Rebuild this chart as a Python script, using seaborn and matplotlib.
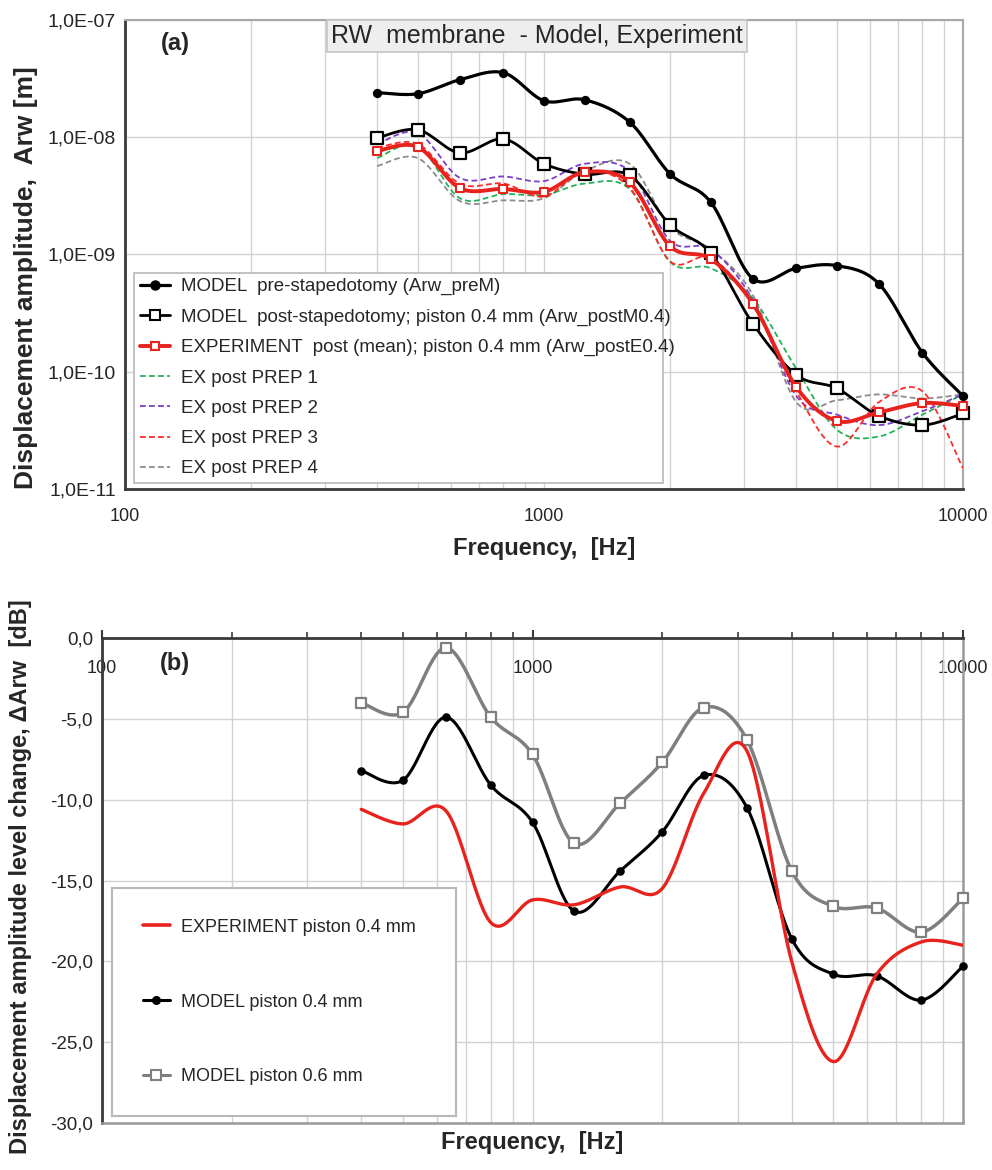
import numpy as np
import matplotlib
matplotlib.use("Agg")
import matplotlib.pyplot as plt
import seaborn as sns
from matplotlib.lines import Line2D
from matplotlib.ticker import FixedLocator, FuncFormatter, NullLocator, NullFormatter

# ---------------- data ----------------
freq = [400, 500, 630, 800, 1000, 1250, 1600, 2000, 2500, 3150, 4000, 5000, 6300, 8000, 10000]

arw_preM = [2.38e-8, 2.33e-8, 3.07e-8, 3.52e-8, 2.03e-8, 2.07e-8, 1.34e-8, 4.83e-9,
            2.78e-9, 6.2e-10, 7.6e-10, 8.0e-10, 5.6e-10, 1.45e-10, 6.2e-11]
arw_postM04 = [9.8e-9, 1.15e-8, 7.3e-9, 9.6e-9, 5.9e-9, 4.8e-9, 4.7e-9, 1.78e-9,
               1.02e-9, 2.57e-10, 9.4e-11, 7.2e-11, 4.2e-11, 3.5e-11, 4.4e-11]
arw_postE04 = [7.6e-9, 8.2e-9, 3.66e-9, 3.6e-9, 3.4e-9, 5.0e-9, 4.1e-9, 1.17e-9,
               9.1e-10, 3.8e-10, 7.4e-11, 3.8e-11, 4.5e-11, 5.4e-11, 5.1e-11]
prep1 = [6.6e-9, 8.4e-9, 3.0e-9, 3.26e-9, 3.2e-9, 4.0e-9, 3.6e-9, 8.6e-10,
         7.6e-10, 4.2e-10, 1.06e-10, 3.2e-11, 2.8e-11, 4.3e-11, 6.4e-11]
prep2 = [8.7e-9, 1.08e-8, 4.47e-9, 4.6e-9, 4.2e-9, 5.9e-9, 5.1e-9, 1.3e-9,
         1.1e-9, 4.1e-10, 6.2e-11, 4.3e-11, 3.5e-11, 4.6e-11, 6.4e-11]
prep3 = [8.1e-9, 8.7e-9, 3.98e-9, 4.0e-9, 3.1e-9, 5.1e-9, 3.7e-9, 8.7e-10,
         9.3e-10, 3.7e-10, 6.8e-11, 2.3e-11, 5.5e-11, 6.8e-11, 1.5e-11]
prep4 = [5.65e-9, 6.6e-9, 2.84e-9, 2.88e-9, 3.0e-9, 5.1e-9, 5.9e-9, 1.7e-9,
         1.1e-9, 4.5e-10, 5.5e-11, 5.7e-11, 6.4e-11, 5.9e-11, 6.4e-11]

dArw_E04 = [-10.6, -11.5, -10.7, -17.6, -16.2, -16.5, -15.4, -15.5,
            -9.6, -7.0, -20.0, -26.2, -20.8, -18.8, -19.0]
dArw_M04 = [-8.2, -8.8, -4.9, -9.1, -11.4, -16.9, -14.4, -12.0,
            -8.5, -10.5, -18.6, -20.8, -20.9, -22.4, -20.3]
dArw_M06 = [-4.0, -4.6, -0.6, -4.9, -7.2, -12.7, -10.2, -7.7,
            -4.3, -6.3, -14.4, -16.6, -16.7, -18.2, -16.1]

top_labels = ["MODEL  pre-stapedotomy (Arw_preM)",
              "MODEL  post-stapedotomy; piston 0.4 mm (Arw_postM0.4)",
              "EXPERIMENT  post (mean); piston 0.4 mm (Arw_postE0.4)",
              "EX post PREP 1", "EX post PREP 2", "EX post PREP 3", "EX post PREP 4"]
bot_labels = ["EXPERIMENT piston 0.4 mm", "MODEL piston 0.4 mm", "MODEL piston 0.6 mm"]
x_ticks = [100, 1000, 10000]
y_ticks_top = [1e-11, 1e-10, 1e-9, 1e-8, 1e-7]
y_ticks_bot = [0, -5, -10, -15, -20, -25, -30]


def smooth(x, y, logy=True, n=30):
    """Excel-like smoothed line (Catmull-Rom / Bezier) in log-x space."""
    lx = np.log10(np.asarray(x, float))
    yy = np.asarray(y, float)
    if logy:
        yy = np.log10(yy)
    P = np.column_stack([lx, yy])
    P = np.vstack([P[0], P, P[-1]])
    t = np.linspace(0, 1, n, endpoint=False)[:, None]
    pts = []
    for i in range(1, len(P) - 2):
        p0, p1, p2, p3 = P[i - 1], P[i], P[i + 1], P[i + 2]
        b1 = p1 + (p2 - p0) / 6.0
        b2 = p2 - (p3 - p1) / 6.0
        seg = ((1 - t) ** 3) * p1 + 3 * ((1 - t) ** 2) * t * b1 + 3 * (1 - t) * t ** 2 * b2 + t ** 3 * p2
        pts.append(seg)
    pts.append(P[-2][None, :])
    pts = np.vstack(pts)
    xs = 10 ** pts[:, 0]
    ys = 10 ** pts[:, 1] if logy else pts[:, 1]
    return xs, ys


sns.set_style("white")
plt.rcParams["font.family"] = ["Liberation Sans", "DejaVu Sans"]

fig = plt.figure(figsize=(9.92, 11.7), dpi=100)
ax1 = fig.add_axes([125 / 992, 1 - 489 / 1170, (963 - 125) / 992, (489 - 19.5) / 1170])
ax2 = fig.add_axes([102 / 992, 1 - 1123 / 1170, (963 - 102) / 992, (1123 - 638) / 1170])

dark = "#3a3a3a"
light = "#a8a8a8"
gridc = "#d2d2d2"
green = "#22b35a"
purple = "#7a3fc8"
red = "#e8231e"
gray_d = "#8c8c8c"

# ---------------- panel (a) ----------------
ax1.set_xscale("log")
ax1.set_yscale("log")
ax1.set_xlim(100, 10000)
ax1.set_ylim(1e-11, 1e-7)

dash = (0, (3.2, 1.8))
for vals, col in [(prep4, gray_d), (prep1, green), (prep2, purple), (prep3, "#ff2a2a")]:
    xs, ys = smooth(freq, vals)
    sns.lineplot(x=xs, y=ys, ax=ax1, color=col, linewidth=1.3, linestyle=dash,
                 sort=False, estimator=None, legend=False, zorder=3)

xs, ys = smooth(freq, arw_postM04)
sns.lineplot(x=xs, y=ys, ax=ax1, color="black", linewidth=2.0, sort=False, estimator=None,
             legend=False, zorder=4)
sns.scatterplot(x=freq, y=arw_postM04, ax=ax1, marker="s", s=70, color="white",
                edgecolor="black", linewidth=1.6, zorder=5, legend=False, clip_on=False)

xs, ys = smooth(freq, arw_postE04)
sns.lineplot(x=xs, y=ys, ax=ax1, color=red, linewidth=2.8, sort=False, estimator=None,
             legend=False, zorder=6)
sns.scatterplot(x=freq, y=arw_postE04, ax=ax1, marker="s", s=40, color="white",
                edgecolor=red, linewidth=1.5, zorder=7, legend=False, clip_on=False)

xs, ys = smooth(freq, arw_preM)
sns.lineplot(x=xs, y=ys, ax=ax1, color="black", linewidth=2.3, sort=False, estimator=None,
             legend=False, zorder=8)
sns.scatterplot(x=freq, y=arw_preM, ax=ax1, marker="o", s=45, color="black",
                edgecolor="black", linewidth=0, zorder=9, legend=False, clip_on=False)

ax1.xaxis.set_major_locator(FixedLocator(x_ticks))
ax1.xaxis.set_major_formatter(FuncFormatter(lambda v, p: f"{int(round(v))}"))
ax1.xaxis.set_minor_formatter(NullFormatter())
ax1.yaxis.set_major_locator(FixedLocator(y_ticks_top))
ax1.yaxis.set_minor_locator(NullLocator())
ax1.yaxis.set_major_formatter(FuncFormatter(lambda v, p: f"{v:.1E}".replace(".", ",")))
ax1.grid(True, which="major", color=gridc, linewidth=1.0)
ax1.grid(True, which="minor", axis="x", color=gridc, linewidth=1.0)
ax1.set_axisbelow(True)
for s in ["left", "bottom"]:
    ax1.spines[s].set_color(dark)
    ax1.spines[s].set_linewidth(2.0)
for s in ["top", "right"]:
    ax1.spines[s].set_color(light)
    ax1.spines[s].set_linewidth(1.5)
ax1.tick_params(axis="both", which="major", direction="out", length=6, width=1.5,
                color=dark, labelsize=13, pad=3)
ax1.tick_params(axis="y", which="major", labelsize=14, pad=0.5)
ax1.tick_params(axis="x", which="minor", direction="out", length=4, width=1.2, color=dark)
ax1.tick_params(axis="x", which="major", pad=8)

ax1.set_xlabel("Frequency,  [Hz]", fontsize=17, fontweight="bold", labelpad=8)
ax1.set_ylabel("Displacement amplitude,  Arw [m]", fontsize=19, fontweight="bold")
ax1.yaxis.set_label_coords(-0.104, 0.45)

ax1.text(0.06, 0.948, "(a)", transform=ax1.transAxes, fontsize=17, fontweight="bold",
         ha="center", va="center")
ax1.text(0.4916, 0.9638, "RW  membrane  - Model, Experiment", transform=ax1.transAxes,
         fontsize=18, ha="center", va="center", zorder=12,
         bbox=dict(boxstyle="square,pad=0.16", facecolor="#eeeeee", edgecolor="#c4c4c4", linewidth=1.2))

h_top = [
    Line2D([], [], color="black", lw=2.3, marker="o", ms=6.5),
    Line2D([], [], color="black", lw=2.0, marker="s", ms=7.5, mfc="white", mec="black", mew=1.5),
    Line2D([], [], color=red, lw=2.8, marker="s", ms=6, mfc="white", mec=red, mew=1.5),
    Line2D([], [], color=green, lw=1.3, linestyle=dash),
    Line2D([], [], color=purple, lw=1.3, linestyle=dash),
    Line2D([], [], color="#ff2a2a", lw=1.3, linestyle=dash),
    Line2D([], [], color=gray_d, lw=1.3, linestyle=dash),
]
leg1 = ax1.legend(h_top, top_labels, loc="lower left", bbox_to_anchor=(0.0107, 0.0128, 0.631, 0.447),
                  mode="expand", fontsize=13.5, frameon=True, fancybox=False, framealpha=1,
                  edgecolor="#b8b8b8", handlelength=1.6, handletextpad=0.6, labelspacing=0.7,
                  borderpad=0.3, borderaxespad=0)
leg1.get_frame().set_linewidth(1.2)
leg1.set_zorder(20)

# ---------------- panel (b) ----------------
ax2.set_xscale("log")
ax2.set_xlim(100, 10000)
ax2.set_ylim(-30, 0)

xs, ys = smooth(freq, dArw_M06, logy=False)
sns.lineplot(x=xs, y=ys, ax=ax2, color="#7f7f7f", linewidth=2.5, sort=False, estimator=None,
             legend=False, zorder=4)
sns.scatterplot(x=freq, y=dArw_M06, ax=ax2, marker="s", s=60, color="white",
                edgecolor="#7f7f7f", linewidth=1.6, zorder=5, legend=False, clip_on=False)

xs, ys = smooth(freq, dArw_M04, logy=False)
sns.lineplot(x=xs, y=ys, ax=ax2, color="black", linewidth=2.2, sort=False, estimator=None,
             legend=False, zorder=6)
sns.scatterplot(x=freq, y=dArw_M04, ax=ax2, marker="o", s=38, color="black",
                edgecolor="black", linewidth=0, zorder=7, legend=False, clip_on=False)

xs, ys = smooth(freq, dArw_E04, logy=False)
sns.lineplot(x=xs, y=ys, ax=ax2, color=red, linewidth=2.4, sort=False, estimator=None,
             legend=False, zorder=8)

ax2.xaxis.set_ticks_position("top")
ax2.xaxis.set_label_position("bottom")
ax2.xaxis.set_major_locator(FixedLocator(x_ticks))
ax2.xaxis.set_major_formatter(FuncFormatter(lambda v, p: f"{int(round(v))}"))
ax2.xaxis.set_minor_formatter(NullFormatter())
ax2.yaxis.set_major_locator(FixedLocator(y_ticks_bot))
ax2.yaxis.set_major_formatter(FuncFormatter(lambda v, p: f"{v:.1f}".replace(".", ",")))
ax2.grid(True, which="major", color=gridc, linewidth=1.0)
ax2.grid(True, which="minor", axis="x", color=gridc, linewidth=1.0)
ax2.set_axisbelow(True)
for s in ["left", "top"]:
    ax2.spines[s].set_color(dark)
    ax2.spines[s].set_linewidth(2.0)
for s in ["bottom", "right"]:
    ax2.spines[s].set_color("#9a9a9a")
    ax2.spines[s].set_linewidth(1.8)
ax2.tick_params(axis="y", which="major", direction="out", length=6, width=1.5, color=dark,
                labelsize=13.5, pad=0.5)
ax2.tick_params(axis="x", which="both", top=True, bottom=False, labeltop=True, labelbottom=False,
                direction="out", color=dark, labelsize=13)
ax2.tick_params(axis="x", which="major", length=6, width=1.5, pad=-34)
ax2.tick_params(axis="x", which="minor", length=4, width=1.2)

ax2.set_xlabel("Frequency,  [Hz]", fontsize=17, fontweight="bold", labelpad=6)
ax2.set_ylabel("Displacement amplitude level change, \u0394Arw  [dB]", fontsize=17, fontweight="bold")
ax2.yaxis.set_label_coords(-0.081, 0.507)

ax2.text(0.085, 0.948, "(b)", transform=ax2.transAxes, fontsize=17, fontweight="bold",
         ha="center", va="center")

h_bot = [
    Line2D([], [], color=red, lw=2.6),
    Line2D([], [], color="black", lw=2.2, marker="o", ms=5.5),
    Line2D([], [], color="#7f7f7f", lw=2.2, marker="s", ms=7, mfc="white", mec="#7f7f7f", mew=1.5),
]
leg2 = ax2.legend(h_bot, bot_labels, loc="lower left", bbox_to_anchor=(0.0116, 0.0144, 0.3995, 0.47),
                  mode="expand", fontsize=13, frameon=True, fancybox=False, framealpha=1,
                  edgecolor="#b8b8b8", handlelength=1.5, handletextpad=0.6, labelspacing=3.2,
                  borderpad=1.7, borderaxespad=0)
leg2.get_frame().set_linewidth(1.5)
leg2.set_zorder(20)

fig.savefig("out.png", dpi=100)
